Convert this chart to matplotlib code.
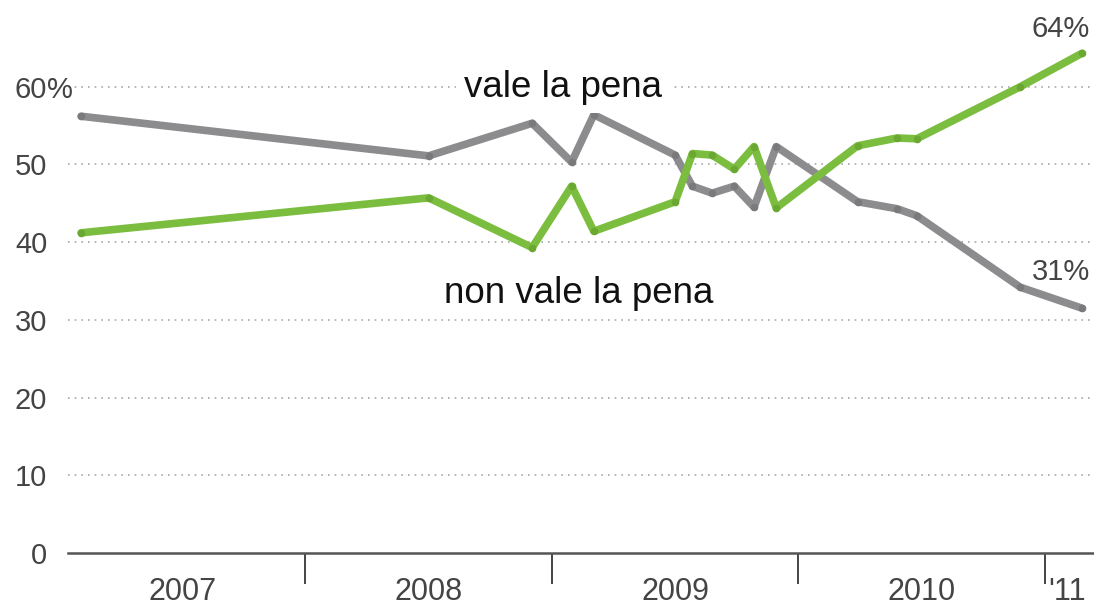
import numpy as np
import matplotlib.pyplot as plt

# poll dates as fractional years, values in percent
dates = [2007.09, 2008.50, 2008.92, 2009.08, 2009.17, 2009.50, 2009.57, 2009.65,
         2009.74, 2009.82, 2009.91, 2010.24, 2010.40, 2010.48, 2010.90, 2011.15]
vale = [56.2, 51.1, 55.3, 50.3, 56.4, 51.2, 47.2, 46.3,
        47.2, 44.5, 52.3, 45.2, 44.3, 43.4, 34.2, 31.5]
non_vale = [41.2, 45.7, 39.3, 47.2, 41.4, 45.2, 51.4, 51.2,
            49.4, 52.3, 44.4, 52.4, 53.4, 53.3, 60.0, 64.3]

year_bounds = [2008, 2009, 2010, 2011]
year_label_pos = [2007.5, 2008.5, 2009.5, 2010.5, 2011.09]
year_labels = ['2007', '2008', '2009', '2010', "'11"]
y_ticks = [0, 10, 20, 30, 40, 50, 60]

plt.rcParams['font.family'] = ['Liberation Sans', 'DejaVu Sans']

fig = plt.figure(figsize=(10.94, 6.06), dpi=100)
ax = fig.add_axes([68 / 1094, 53 / 606, 1 - 68 / 1094, 544 / 606])
ax.set_xlim(2007.037, 2011.199)
ax.set_ylim(0, 70)

gray = '#8c8c8e'
green = '#7bbd3f'

for y in y_ticks[1:]:
    ax.axhline(y, color='#a8a8a8', lw=1.2, ls=(0, (1, 3)), zorder=1)

ax.plot(dates, vale, color=gray, lw=5.5, solid_capstyle='round', zorder=3,
        marker='o', markersize=5.5, markerfacecolor='#7a7a7c', markeredgewidth=0)
ax.plot(dates, non_vale, color=green, lw=5.5, solid_capstyle='round', zorder=4,
        marker='o', markersize=5.5, markerfacecolor='#6aa832', markeredgewidth=0)

for s in ['top', 'right', 'left']:
    ax.spines[s].set_visible(False)
ax.spines['bottom'].set_color('#555555')
ax.spines['bottom'].set_linewidth(1.8)

ax.set_xticks(year_bounds)
ax.set_xticklabels([])
ax.set_xticks(year_label_pos, minor=True)
ax.set_xticklabels(year_labels, minor=True, fontsize=22, color='#444444')
ax.tick_params(axis='x', which='major', length=22, width=1.4, color='#444444')
ax.tick_params(axis='x', which='minor', length=0, pad=17)

ax.set_yticks(y_ticks)
ax.set_yticklabels([str(v) for v in y_ticks], fontsize=21, color='#444444')
ax.tick_params(axis='y', length=0, pad=15)
# percent sign hanging after the top tick label
ax.annotate('%', xy=(0, 60), xycoords=('axes fraction', 'data'),
            xytext=(-14.8, 0), textcoords='offset points',
            fontsize=21, color='#444444', ha='left', va='center_baseline')

ax.text(2009.045, 58.7, 'vale la pena', fontsize=26.5, color='#111111', ha='center',
        va='baseline', zorder=5,
        bbox=dict(facecolor='white', edgecolor='none', pad=6))
ax.text(2009.11, 32.2, 'non vale la pena', fontsize=26.5, color='#111111', ha='center',
        va='baseline', zorder=5)
ax.text(2011.065, 66.4, '64%', fontsize=21, color='#444444', ha='center', va='baseline')
ax.text(2011.065, 35.1, '31%', fontsize=21, color='#444444', ha='center', va='baseline')

fig.savefig('out.png', dpi=100)
